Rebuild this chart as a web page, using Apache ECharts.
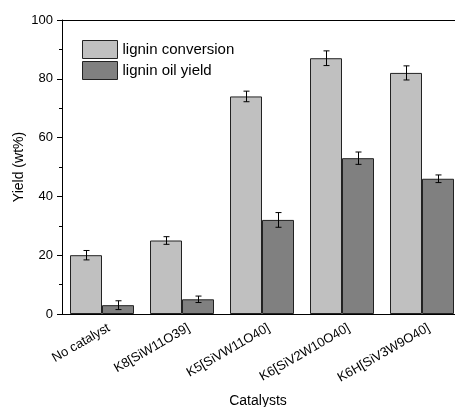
<!DOCTYPE html>
<html style="height: 100%">
<head>
  <meta charset="utf-8">
  <script src="https://cdn.jsdelivr.net/npm/echarts@6/dist/echarts.min.js"></script>
</head>
<body style="height: 100%; margin: 0">
  <div id="main" style="width: 455px; height: 407px"></div>
  <script type="text/javascript">
    // data
    var catalysts = ['No catalyst', 'K8[SiW11O39]', 'K5[SiVW11O40]', 'K6[SiV2W10O40]', 'K6H[SiV3W9O40]'];
    var conversion = [20, 25, 74, 87, 82];
    var conversionErr = [1.6, 1.3, 1.8, 2.5, 2.4];
    var oilYield = [3, 5, 32, 53, 46];
    var oilErr = [1.5, 1.1, 2.5, 2.1, 1.3];
    var yTicks = [0, 20, 40, 60, 80, 100];

    var font = 'Liberation Sans, Arial, sans-serif';
    var myChart = echarts.init(document.getElementById('main'));

    function errBars(values, errs, side) {
      return {
        type: 'custom',
        xAxisIndex: 0,
        yAxisIndex: 0,
        silent: true,
        z: 5,
        data: values.map(function (v, i) { return [i, v, errs[i]]; }),
        renderItem: function (params, api) {
          var i = api.value(0), v = api.value(1), e = api.value(2);
          var band = api.size([1, 0])[0];
          var top = api.coord([i, v + e]);
          var bot = api.coord([i, v - e]);
          var x = Math.round(top[0] + side * band * 0.2) + 0.5;
          var cap = 3;
          var st = { stroke: '#000', lineWidth: 1 };
          return {
            type: 'group',
            children: [
              { type: 'line', shape: { x1: x, y1: top[1], x2: x, y2: bot[1] }, style: st },
              { type: 'line', shape: { x1: x - cap, y1: top[1], x2: x + cap, y2: top[1] }, style: st },
              { type: 'line', shape: { x1: x - cap, y1: bot[1], x2: x + cap, y2: bot[1] }, style: st }
            ]
          };
        }
      };
    }

    var option = {
      animation: false,
      backgroundColor: '#fff',
      textStyle: { fontFamily: font },
      grid: { left: 62, top: 20, width: 400, height: 294, containLabel: false, outerBoundsMode: 'none' },
      legend: {
        orient: 'vertical',
        left: 82,
        top: 40,
        padding: 0,
        icon: 'rect',
        itemWidth: 35,
        itemHeight: 18,
        itemGap: 2,
        itemStyle: { borderColor: '#222', borderWidth: 1 },
        textStyle: { fontSize: 15, color: '#000', fontFamily: font },
        data: ['lignin conversion', 'lignin oil yield']
      },
      xAxis: [{
        type: 'category',
        data: catalysts,
        name: 'Catalysts',
        nameLocation: 'middle',
        nameGap: 80,
        nameMoveOverlap: false,
        nameTextStyle: { fontSize: 14, color: '#000', padding: [0, 8, 0, 0] },
        axisLine: { lineStyle: { color: '#000', width: 1 } },
        axisTick: { alignWithLabel: true, length: 5, lineStyle: { color: '#000' } },
        axisLabel: { rotate: 30, fontSize: 13, color: '#000', margin: 17, padding: [0, -8, 0, 0] }
      }, {
        type: 'category',
        data: catalysts,
        position: 'bottom',
        axisLine: { show: false },
        axisTick: { length: 3, lineStyle: { color: '#000' } },
        axisLabel: { show: false }
      }, {
        type: 'category',
        data: catalysts,
        position: 'top',
        axisLine: { lineStyle: { color: '#000', width: 1 } },
        axisTick: { show: false },
        axisLabel: { show: false }
      }],
      yAxis: {
        type: 'value',
        min: yTicks[0],
        max: yTicks[yTicks.length - 1],
        interval: 20,
        name: 'Yield (wt%)',
        nameLocation: 'middle',
        nameGap: 36,
        nameMoveOverlap: false,
        nameTextStyle: { fontSize: 14, color: '#000' },
        axisLine: { show: true, lineStyle: { color: '#000', width: 1 } },
        axisTick: { show: true, length: 5, lineStyle: { color: '#000' } },
        minorTick: { show: true, splitNumber: 2, length: 3, lineStyle: { color: '#000' } },
        axisLabel: { fontSize: 13, color: '#000', margin: 9 },
        splitLine: { show: false }
      },
      series: [{
        name: 'lignin conversion',
        type: 'bar',
        data: conversion,
        barGap: '0%',
        barCategoryGap: '20%',
        itemStyle: { color: '#c0c0c0', borderColor: '#222', borderWidth: 1 }
      }, {
        name: 'lignin oil yield',
        type: 'bar',
        data: oilYield,
        barGap: '0%',
        barCategoryGap: '20%',
        itemStyle: { color: '#808080', borderColor: '#222', borderWidth: 1 }
      },
        errBars(conversion, conversionErr, -1),
        errBars(oilYield, oilErr, 1)
      ]
    };
    myChart.setOption(option);
  </script>
</body>
</html>
